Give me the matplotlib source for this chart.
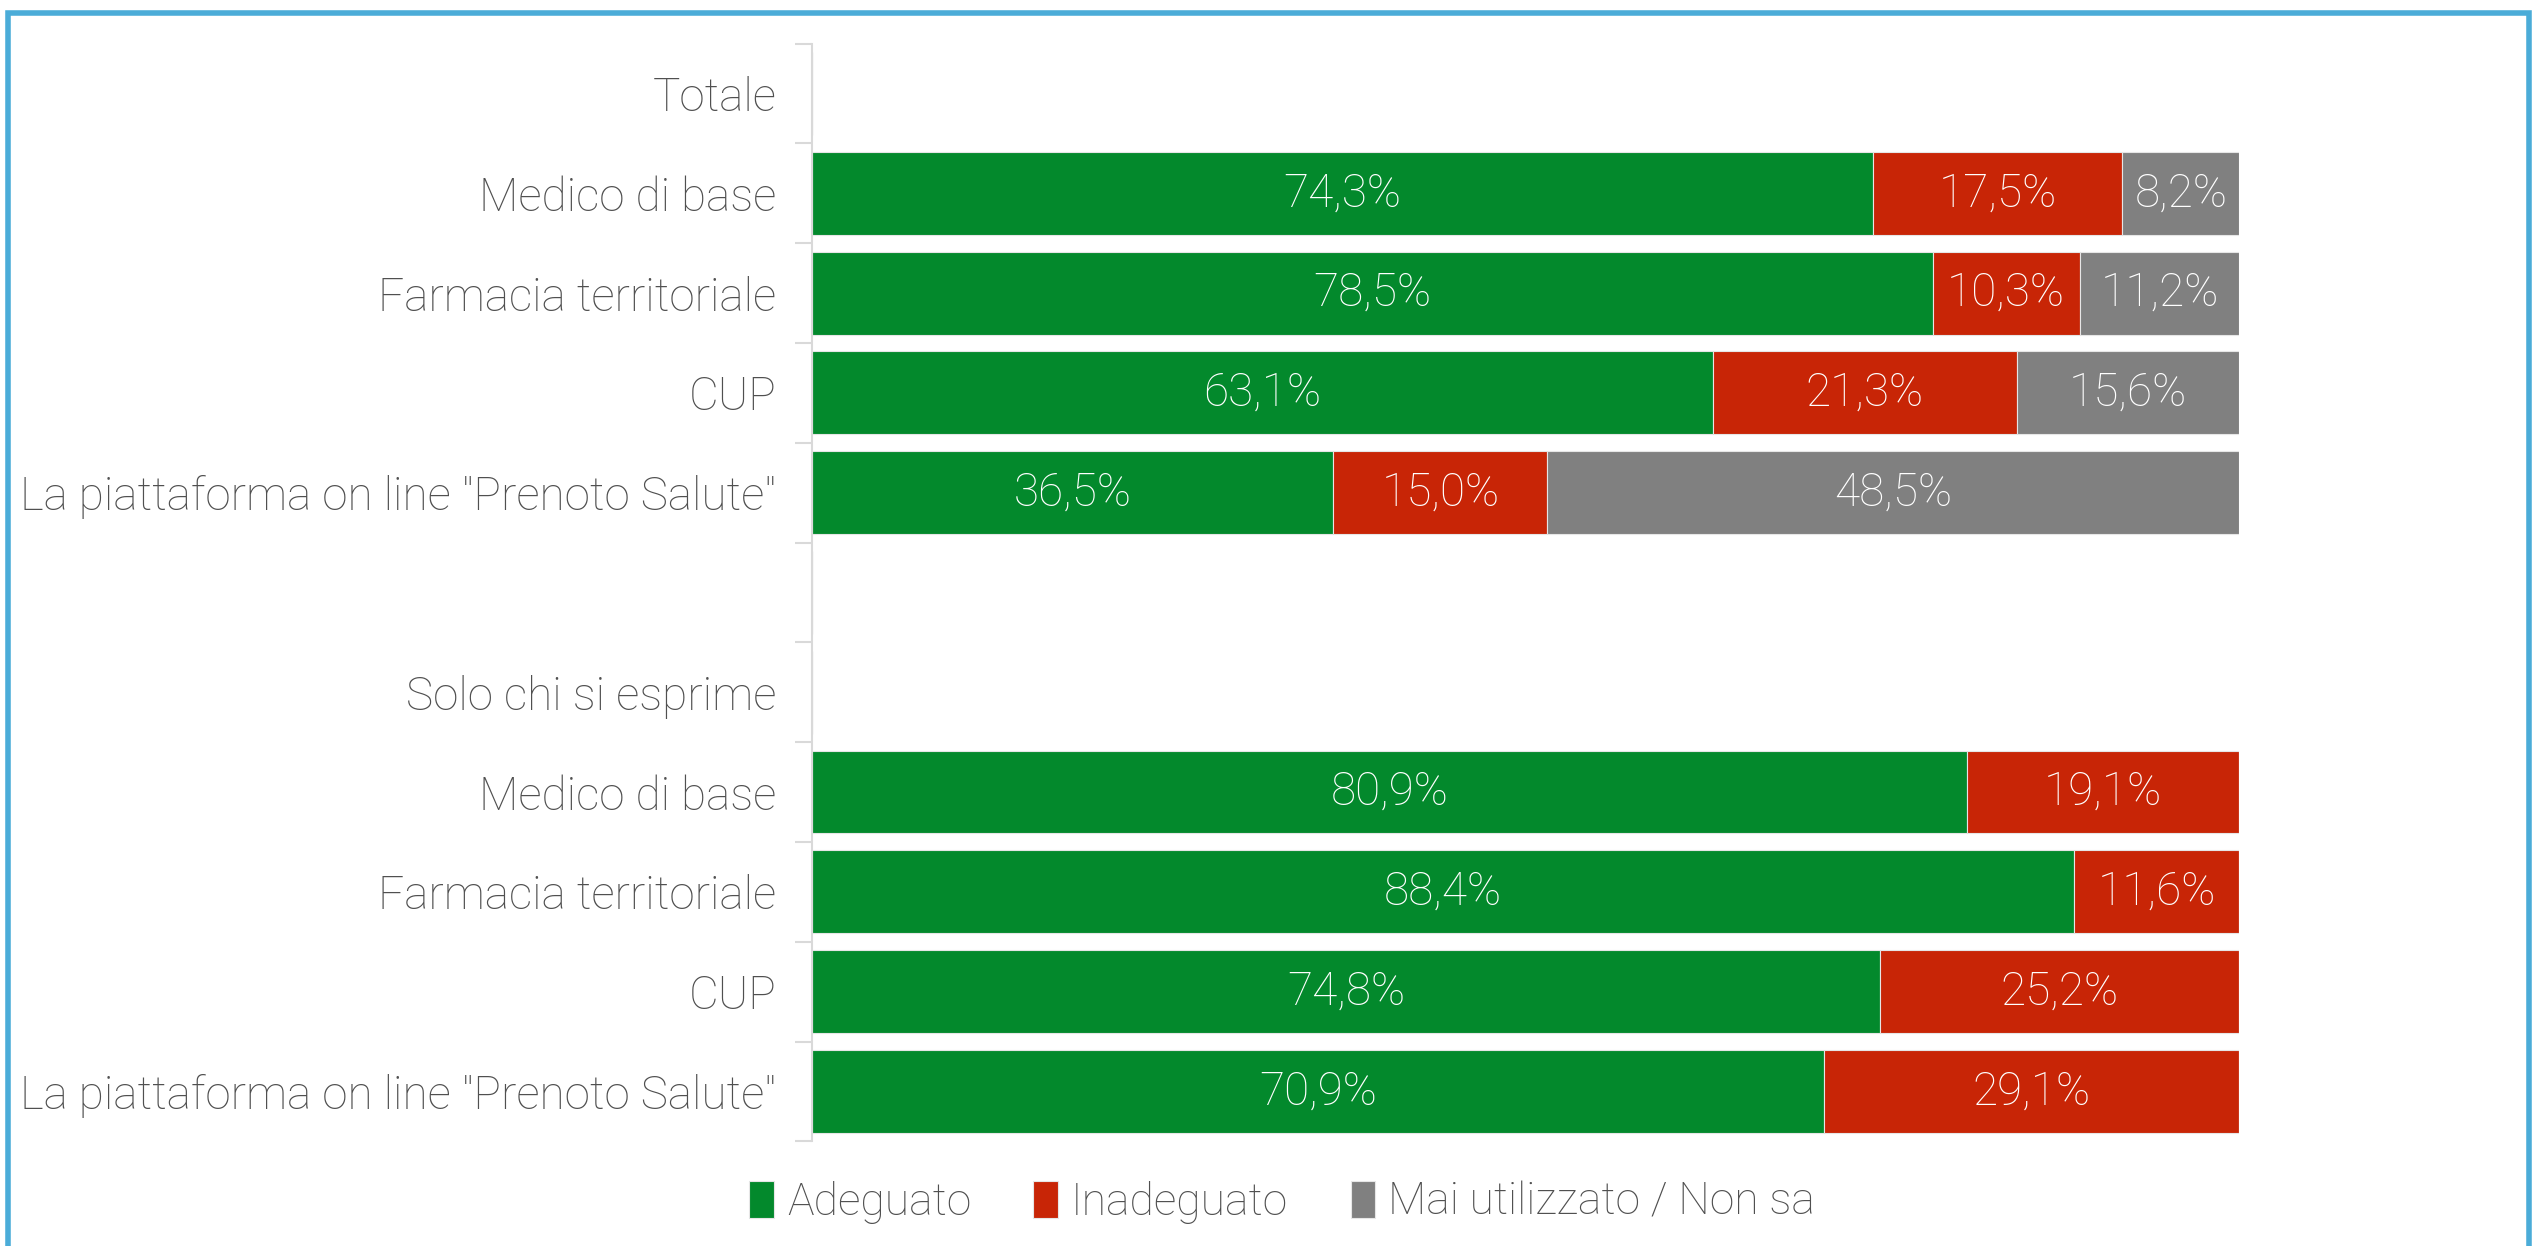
import matplotlib
matplotlib.use('Agg')
import matplotlib.pyplot as plt
import matplotlib.patches as patches
import numpy as np

plt.rcParams['font.family'] = ['Roboto', 'DejaVu Sans']
plt.rcParams['font.weight'] = 'light'

# categorie (dall'alto verso il basso)
categorie = ['Totale', 'Medico di base', 'Farmacia territoriale', 'CUP',
             'La piattaforma on line "Prenoto Salute"', '',
             'Solo chi si esprime', 'Medico di base', 'Farmacia territoriale', 'CUP',
             'La piattaforma on line "Prenoto Salute"']

# valori (None = riga di intestazione / vuota)
adeguato = [None, 74.3, 78.5, 63.1, 36.5, None, None, 80.9, 88.4, 74.8, 70.9]
inadeguato = [None, 17.5, 10.3, 21.3, 15.0, None, None, 19.1, 11.6, 25.2, 29.1]
mai_utilizzato = [None, 8.2, 11.2, 15.6, 48.5, None, None, 0, 0, 0, 0]

serie = ['Adeguato', 'Inadeguato', 'Mai utilizzato / Non sa']
colori = ['#03892C', '#C82506', '#808080']

testo_grigio = '#505050'
fs = 33

fig = plt.figure(figsize=(25.39, 12.46), dpi=100)
ax = fig.add_axes([0.320, 0.084, 0.562, 0.881])

y = np.arange(len(categorie))
valori = [adeguato, inadeguato, mai_utilizzato]

sinistra = np.zeros(len(categorie))
for nome, col, vals in zip(serie, colori, valori):
    v = np.array([0 if x is None else x for x in vals], dtype=float)
    ax.barh(y, v, left=sinistra, height=0.83, color=col,
            edgecolor='#E6E6E6', linewidth=0.8, label=nome)
    for i, val in enumerate(v):
        if val > 0:
            ax.text(sinistra[i] + val / 2, y[i], f'{val:.1f}%'.replace('.', ','),
                    ha='center', va='center', color='white', fontsize=fs)
    sinistra += v

ax.set_xlim(0, 100)
ax.set_ylim(len(categorie) - 0.5, -0.5)
ax.set_yticks(y)
ax.set_yticklabels(categorie, fontsize=fs, color=testo_grigio)
ax.tick_params(axis='y', which='major', length=0, pad=26)
ax.set_yticks(np.arange(-0.5, len(categorie)), minor=True)
ax.tick_params(axis='y', which='minor', length=12, width=1.5, color='#D9D9D9')
ax.set_xticks([])
for s in ['top', 'right', 'bottom']:
    ax.spines[s].set_visible(False)
ax.spines['left'].set_color('#D9D9D9')
ax.spines['left'].set_linewidth(1.5)

leg = fig.legend(*ax.get_legend_handles_labels(), loc='center', bbox_to_anchor=(0.505, 0.035),
                 ncol=3, frameon=False, fontsize=32, handlelength=0.55, handleheight=0.9,
                 handletextpad=0.3, columnspacing=1.4)
for t in leg.get_texts():
    t.set_color(testo_grigio)

# cornice blu
bordo = patches.Rectangle((0.003, -0.1), 0.993, 1.1 - 0.0105, transform=fig.transFigure,
                          fill=False, edgecolor='#4BACD8', linewidth=4, clip_on=False)
fig.patches.append(bordo)

fig.savefig('out.png', dpi=100)
